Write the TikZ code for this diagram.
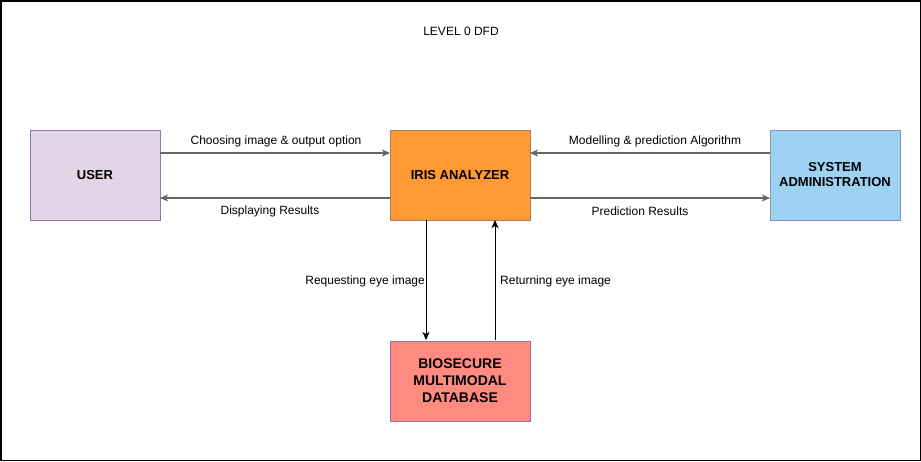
\documentclass[tikz,border=0pt]{standalone}
\usepackage{fontspec}
\setmainfont{Liberation Sans}
\usetikzlibrary{arrows.meta}
\definecolor{userfill}{HTML}{E1D5E7}
\definecolor{userdraw}{HTML}{9673A6}
\definecolor{irisfill}{HTML}{FF9933}
\definecolor{irisdraw}{HTML}{B07A6A}
\definecolor{sysfill}{HTML}{9DD2F3}
\definecolor{sysdraw}{HTML}{8E8EC0}
\definecolor{biofill}{HTML}{FF8A80}
\definecolor{biodraw}{HTML}{9673A6}
\definecolor{linegray}{HTML}{666666}
\tikzset{
  proc/.style={rectangle, minimum width=130pt, minimum height=90pt, inner sep=0pt, line width=0.8pt, align=center, font=\fontsize{13}{15}\selectfont\bfseries},
  flow/.style={line width=1.2pt, -{Stealth[length=8pt,width=7pt,inset=2pt]}},
  lbl/.style={font=\fontsize{12}{14}\selectfont, inner sep=0pt}
}
\begin{document}
\begin{tikzpicture}[x=1pt,y=-1pt]
\useasboundingbox (0,0) rectangle (921,461);
\draw[line width=1.5pt] (0.75,0.75) rectangle (920.25,460.25);
\node[lbl] (title) at (461,31) {LEVEL 0 DFD};
\node[proc, fill=userfill, draw=userdraw] (user) at (95,175) {USER};
\node[proc, fill=irisfill, draw=irisdraw, minimum width=140pt] (iris) at (460,175) {IRIS ANALYZER};
\node[proc, fill=sysfill, draw=sysdraw] (sys) at (835,175) {SYSTEM\\ADMINISTRATION};
\node[proc, fill=biofill, draw=biodraw, minimum width=140pt, minimum height=80pt, font=\fontsize{14}{17}\selectfont\bfseries] (bio) at (460,381) {BIOSECURE\\MULTIMODAL\\DATABASE};
\coordinate (u1) at (160,153);
\coordinate (u2) at (160,198);
\coordinate (i1) at (390,153);
\coordinate (i2) at (390,198);
\coordinate (i3) at (530,153);
\coordinate (i4) at (530,198);
\coordinate (s1) at (770,153);
\coordinate (s2) at (770,198);
\coordinate (iv1) at (426,220);
\coordinate (iv2) at (495,220);
\coordinate (b1) at (426,340);
\coordinate (b2) at (495,340);
\draw[flow, draw=linegray] (u1) -- (i1);
\draw[flow, draw=linegray] (i2) -- (u2);
\draw[flow, draw=linegray] (s1) -- (i3);
\draw[flow, draw=linegray] (i4) -- (s2);
\draw[flow, line width=1pt] (iv1) -- (b1);
\draw[flow, line width=1pt] (b2) -- (iv2);
\node[lbl] (l1) at (276,141) {Choosing image \& output option};
\node[lbl] (l2) at (270,211) {Displaying Results};
\node[lbl] (l3) at (655,141) {Modelling \& prediction Algorithm};
\node[lbl] (l4) at (640,211) {Prediction Results};
\node[lbl, anchor=east] (l5) at (425,281) {Requesting eye image};
\node[lbl, anchor=west] (l6) at (500,281) {Returning eye image};
\end{tikzpicture}
\end{document}
